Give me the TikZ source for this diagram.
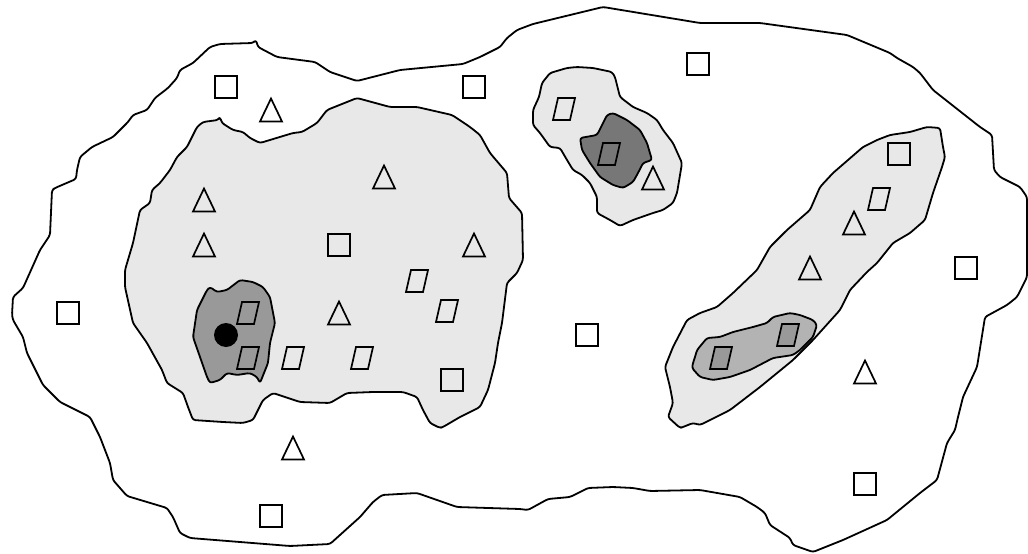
\documentclass[tikz,border=0pt]{standalone}
\usetikzlibrary{shapes.geometric}
\definecolor{lightg}{HTML}{E8E8E8}
\definecolor{midg}{HTML}{999999}
\definecolor{darkg}{HTML}{777777}
\definecolor{paleg}{HTML}{B3B3B3}
\tikzset{
  region/.style={draw=black, line width=1.8pt, rounded corners=2.5pt, line join=round},
  sqbox/.style={draw=black, line width=1.8pt, minimum size=22pt, inner sep=0pt, rectangle},
  markline/.style={draw=black, line width=1.7pt, line join=miter},
}
\newcommand\tri[2]{\draw[markline] (#1-11,#2+11.5) -- (#1,#2-11.5) -- (#1+11,#2+11.5) -- cycle;}
\newcommand\para[3][none]{\draw[markline, fill=#1] (#2-11,#3+11) -- (#2+6,#3+11) -- (#2+11,#3-11) -- (#2-6,#3-11) -- cycle;}
\begin{document}
\begin{tikzpicture}[x=1pt,y=-1pt]
\useasboundingbox (0,0) rectangle (1028,554);
% outer region
\draw[region, fill=white]
 (253,43) -- (256,40) -- (258,47) -- (277,57) -- (315,62) -- (330,72) -- (357,81) -- (400,70) -- (463,64) -- (480,57) -- (500,47) -- (507,38) -- (517,30) -- (533,24) -- (603,7) -- (700,23) -- (760,23) -- (847,35) -- (890,53) -- (897,58) -- (913,67) -- (920,73) -- (933,90) -- (980,127) -- (992,135) -- (994,170) -- (1000,177) -- (1020,187) -- (1027,197) -- (1027,277) -- (1017,297) -- (1007,305) -- (985,317) -- (977,367) -- (963,397) -- (958,417) -- (955,430) -- (947,443) -- (937,480) -- (920,493) -- (887,520) -- (843,540) -- (813,552) -- (793,545) -- (790,538) -- (770,525) -- (765,513) -- (757,507) -- (740,497) -- (700,490) -- (650,491) -- (633,488) -- (613,487) -- (588,488) -- (570,497) -- (548,499) -- (528,510) -- (520,509) -- (457,507) -- (417,493) -- (382,495) -- (373,502) -- (360,517) -- (330,544) -- (290,546) -- (190,538) -- (180,533) -- (173,517) -- (167,508) -- (127,496) -- (113,480) -- (110,463) -- (100,437) -- (90,417) -- (60,402) -- (43,385) -- (27,353) -- (23,337) -- (13,320) -- (12,315) -- (13,297) -- (23,288) -- (40,250) -- (50,235) -- (52,190) -- (55,188) -- (76,179) -- (77,170) -- (80,157) -- (92,147) -- (113,137) -- (128,122) -- (133,115) -- (147,110) -- (155,98) -- (168,88) -- (177,78) -- (180,70) -- (193,63) -- (210,47) -- (220,44) -- cycle;
% big light region
\draw[region, fill=lightg]
 (220,117) -- (222,123) -- (233,130) -- (243,132) -- (250,138) -- (260,143) -- (293,133) -- (302,132) -- (317,123) -- (327,110) -- (357,98) -- (390,107) -- (417,107) -- (452,115) -- (470,127) -- (480,135) -- (490,153) -- (507,173) -- (509,198) -- (522,213) -- (523,260) -- (517,273) -- (507,283) -- (502,323) -- (498,343) -- (495,363) -- (488,390) -- (480,407) -- (460,417) -- (443,427) -- (440,428) -- (430,423) -- (423,410) -- (417,397) -- (403,392) -- (373,392) -- (347,393) -- (330,403) -- (300,402) -- (273,393) -- (263,400) -- (253,420) -- (243,423) -- (223,422) -- (193,420) -- (188,407) -- (183,393) -- (167,383) -- (162,370) -- (147,343) -- (133,323) -- (125,287) -- (125,270) -- (133,243) -- (140,210) -- (150,203) -- (152,190) -- (160,183) -- (170,170) -- (177,157) -- (187,147) -- (197,127) -- (203,122) -- (218,120) -- cycle;
% left dark blob
\draw[region, fill=midg]
 (193,337) -- (197,310) -- (207,290) -- (210,287) -- (217,292) -- (227,290) -- (240,280) -- (253,282) -- (263,287) -- (270,297) -- (275,323) -- (270,343) -- (268,363) -- (260,383) -- (257,377) -- (250,373) -- (237,375) -- (227,373) -- (220,380) -- (210,383) -- (207,377) -- (200,357) -- cycle;
% top middle light region
\draw[region, fill=lightg]
 (533,110) -- (533,125) -- (540,133) -- (550,147) -- (560,148) -- (567,160) -- (573,170) -- (582,175) -- (590,183) -- (597,197) -- (597,213) -- (610,220) -- (620,226) -- (633,220) -- (653,213) -- (663,210) -- (673,203) -- (677,193) -- (680,175) -- (682,163) -- (673,143) -- (663,130) -- (657,120) -- (647,113) -- (633,107) -- (620,97) -- (615,77) -- (612,72) -- (593,68) -- (577,67) -- (567,68) -- (550,73) -- (542,83) -- (539,97) -- cycle;
\draw[region, fill=darkg]
 (580,138) -- (597,135) -- (607,115) -- (613,113) -- (627,120) -- (640,130) -- (647,143) -- (652,160) -- (643,163) -- (638,173) -- (633,182) -- (623,188) -- (613,185) -- (600,177) -- (590,163) -- (582,150) -- cycle;
% diagonal light region
\draw[region, fill=lightg]
 (940,128) -- (943,147) -- (945,157) -- (942,167) -- (933,193) -- (925,220) -- (910,233) -- (893,243) -- (877,263) -- (867,272) -- (850,290) -- (840,310) -- (813,340) -- (793,360) -- (760,387) -- (730,410) -- (720,415) -- (700,425) -- (693,423) -- (683,427) -- (680,428) -- (668,417) -- (673,403) -- (670,387) -- (665,367) -- (673,347) -- (687,320) -- (700,313) -- (717,307) -- (733,293) -- (757,270) -- (770,247) -- (787,230) -- (810,210) -- (820,187) -- (833,173) -- (863,147) -- (877,140) -- (890,135) -- (910,132) -- (927,127) -- cycle;
\draw[region, fill=paleg]
 (697,350) -- (707,338) -- (720,337) -- (733,332) -- (753,327) -- (767,323) -- (773,317) -- (790,313) -- (800,315) -- (813,320) -- (817,325) -- (813,337) -- (800,350) -- (793,355) -- (773,358) -- (750,370) -- (730,377) -- (713,380) -- (700,377) -- (692,368) -- (693,363) -- (695,357) -- cycle;
% squares
\node[sqbox] (s1) at (226,87) {};
\node[sqbox] (s2) at (474,87) {};
\node[sqbox] (s3) at (339,245) {};
\node[sqbox] (s4) at (452,380) {};
\node[sqbox] (s5) at (68,313) {};
\node[sqbox] (s6) at (271,516) {};
\node[sqbox] (s7) at (698,64) {};
\node[sqbox] (s8) at (899,154) {};
\node[sqbox] (s9) at (966,268) {};
\node[sqbox] (s10) at (587,335) {};
\node[sqbox] (s11) at (865,484) {};
% triangles
\tri{204}{200}
\tri{204}{245}
\tri{384}{177}
\tri{474}{245}
\tri{339}{313}
\tri{271}{110}
\tri{293}{448}
\tri{653}{178}
\tri{854}{223}
\tri{810}{268}
\tri{865}{372}
% parallelograms
\para{248}{313}
\para{248}{358}
\para{293}{358}
\para{362}{358}
\para{417}{281}
\para{447}{311}
\para{564}{109}
\para{609}{154}
\para{879}{199}
\para[midg]{721}{358}
\para[midg]{788}{335}
% dot
\node[circle, fill=black, minimum size=24pt, inner sep=0pt] (dot) at (226,335) {};
\end{tikzpicture}
\end{document}
